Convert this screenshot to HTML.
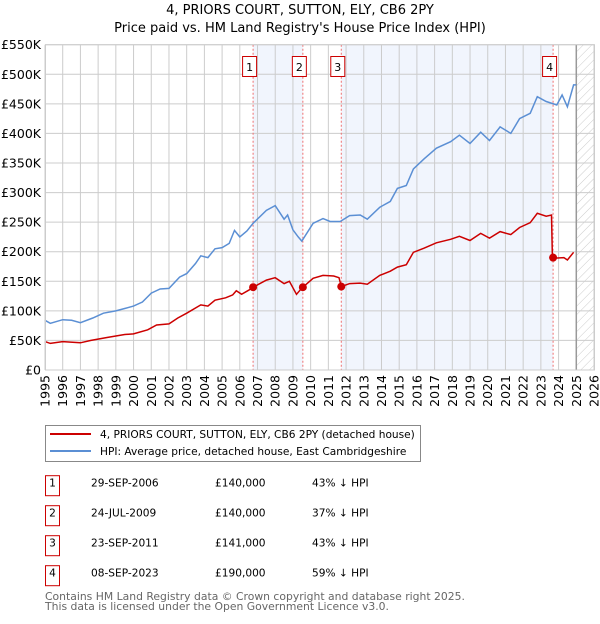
<!DOCTYPE html>
<html><head><meta charset="utf-8"><style>
body{margin:0;background:#fff;width:600px;height:620px;overflow:hidden;font-family:"DejaVu Sans","Liberation Sans",sans-serif}
svg text{font-family:"DejaVu Sans","Liberation Sans",sans-serif}
</style></head><body>
<svg id="chart" width="600" height="620" xmlns="http://www.w3.org/2000/svg">
<defs><pattern id="hatch" patternUnits="userSpaceOnUse" width="6" height="6" patternTransform="rotate(45)"><line x1="0" y1="0" x2="0" y2="6" stroke="#ccc" stroke-width="1"/></pattern></defs>
<text x="300" y="14" font-size="13" text-anchor="middle" fill="#000">4, PRIORS COURT, SUTTON, ELY, CB6 2PY</text>
<text x="300" y="32" font-size="13" text-anchor="middle" fill="#000">Price paid vs. HM Land Registry's House Price Index (HPI)</text>
<g id="plot"></g>
<rect x="45.5" y="425.5" width="375" height="36" fill="#fff" stroke="#888"/>
<line x1="50" y1="434" x2="91" y2="434" stroke="#cc0000" stroke-width="2"/>
<text x="100" y="438" font-size="10.6">4, PRIORS COURT, SUTTON, ELY, CB6 2PY (detached house)</text>
<line x1="50" y1="451" x2="91" y2="451" stroke="#5b8fd4" stroke-width="2"/>
<text x="100" y="455" font-size="10.6">HPI: Average price, detached house, East Cambridgeshire</text>
<g id="table" font-size="10.6"></g>
<text x="45" y="600" font-size="10.8" fill="#666">Contains HM Land Registry data © Crown copyright and database right 2025.</text>
<text x="45" y="610" font-size="10.8" fill="#666">This data is licensed under the Open Government Licence v3.0.</text>
</svg>
<script>
const hpiYears=[1995.0,1995.3,1996.0,1996.5,1997.0,1997.7,1998.3,1999.0,1999.5,2000.0,2000.5,2001.0,2001.5,2002.0,2002.6,2003.0,2003.5,2003.8,2004.2,2004.6,2005.0,2005.4,2005.7,2006.0,2006.4,2006.75,2007.5,2008.0,2008.5,2008.7,2009.0,2009.3,2009.5,2010.14,2010.7,2011.1,2011.67,2012.2,2012.8,2013.2,2013.9,2014.5,2014.9,2015.4,2015.8,2016.4,2017.1,2017.9,2018.4,2019.0,2019.6,2020.1,2020.7,2021.3,2021.8,2022.4,2022.8,2023.3,2023.9,2024.2,2024.5,2024.85,2025.0];
const hpiValues=[84,79,85,84,80,88,96,100,104,108,115,130,137,138,157,163,180,193,190,205,207,214,236,225,235,248,270,278,255,262,237,225,218,248,256,251,251,261,262,255,275,285,307,312,340,357,375,386,397,383,402,388,411,400,425,434,462,454,448,465,445,482,482];
const redYears=[1995.0,1995.3,1996.0,1997.0,1997.6,1998.5,1999.5,2000.0,2000.8,2001.3,2002.0,2002.5,2003.0,2003.8,2004.2,2004.6,2005.2,2005.6,2005.8,2006.1,2006.5,2006.75,2007.5,2008.0,2008.5,2008.8,2009.2,2009.4,2009.56,2010.14,2010.7,2011.3,2011.6,2011.73,2012.2,2012.8,2013.2,2013.9,2014.5,2014.9,2015.4,2015.8,2016.4,2017.1,2017.9,2018.4,2019.0,2019.6,2020.1,2020.7,2021.3,2021.8,2022.4,2022.8,2023.3,2023.6,2023.65,2023.69,2024.3,2024.5,2024.85];
const redValues=[48,45,48,46,50,55,60,61,68,76,78,88,96,110,108,118,122,127,134,128,135,140,152,156,146,150,128,135,140,155,160,159,156,141,146,147,145,160,167,174,178,199,206,215,221,226,219,231,223,234,229,241,249,265,260,262,190,189,190,186,199];
const saleYears=[2006.75,2009.56,2011.73,2023.69];
const saleValues=[140,140,141,190];
const saleLabels=["1","2","3","4"];
const saleDates=["29-SEP-2006"," 24-JUL-2009","23-SEP-2011","08-SEP-2023"];
const salePrices=["£140,000","£140,000","£141,000","£190,000"];
const saleDiffs=["43% ↓ HPI","37% ↓ HPI","43% ↓ HPI","59% ↓ HPI"];
const yTicks=[0,50,100,150,200,250,300,350,400,450,500,550];
const xTicks=[1995,1996,1997,1998,1999,2000,2001,2002,2003,2004,2005,2006,2007,2008,2009,2010,2011,2012,2013,2014,2015,2016,2017,2018,2019,2020,2021,2022,2023,2024,2025,2026];

const X0=45,X1=594,Y0=370,Y1=44.7;
const xS=y=>X0+(y-1995)/(2026-1995)*(X1-X0);
const yS=v=>Y0-v/550*(Y0-Y1);
const NS="http://www.w3.org/2000/svg";
const plot=document.getElementById('plot');
function mk(tag,attrs,parent){const e=document.createElementNS(NS,tag);for(const k in attrs)e.setAttribute(k,attrs[k]);(parent||plot).appendChild(e);return e;}

let e;
e=mk('rect',{x:X0,y:Y1,width:X1-X0,height:Y0-Y1,fill:'#fff'});


[[0,1],[2,3]].forEach(p=>{
  e=mk('rect',{x:xS(saleYears[p[0]]),y:Y1,width:xS(saleYears[p[1]])-xS(saleYears[p[0]]),height:Y0-Y1,fill:'#eef3fc',opacity:0.8});
  
  
});
e=mk('rect',{x:xS(2025),y:Y1,width:X1-xS(2025),height:Y0-Y1,fill:'url(#hatch)'});


yTicks.forEach(v=>{
  e=mk('line',{x1:X0,x2:X1,y1:yS(v),y2:yS(v),stroke:'#ccc','stroke-width':1});
  
  
  e=mk('text',{x:X0-4,y:yS(v)+4.5,'font-size':12.5,'text-anchor':'end',fill:'#000'});
  e.textContent=v===0?'£0':'£'+v+'K';
  
  
});
xTicks.forEach(y=>{
  e=mk('line',{x1:xS(y),x2:xS(y),y1:Y1,y2:Y0,stroke:'#ccc','stroke-width':1});
  
  
  e=mk('text',{x:0,y:0,'font-size':12.5,'text-anchor':'end',transform:`translate(${xS(y)+4.5},${Y0+5}) rotate(-90)`});
  e.textContent=y;
  
  
});
e=mk('line',{x1:xS(2025),x2:xS(2025),y1:Y1,y2:Y0,stroke:'#999','stroke-width':1.5});


saleYears.forEach((s,i)=>{
  e=mk('line',{x1:xS(s),x2:xS(s),y1:Y1,y2:Y0,stroke:'#f07070','stroke-width':1,'stroke-dasharray':'2,2'});
  
  
  const g=mk('g',{});
  
  
  mk('rect',{x:xS(s)-10.5,y:56.5,width:14,height:20,fill:'#fff',stroke:'#cc0000'},g);
  const t=mk('text',{x:xS(s)-3.5,y:71,'font-size':11,'text-anchor':'middle'},g);
  t.textContent=saleLabels[i];
});
const pts=(xs,vs)=>xs.map((x,i)=>xS(x).toFixed(1)+','+yS(vs[i]).toFixed(1)).join(' ');
e=mk('polyline',{points:pts(hpiYears,hpiValues),fill:'none',stroke:'#5b8fd4','stroke-width':1.5});


e=mk('polyline',{points:pts(redYears,redValues),fill:'none',stroke:'#cc0000','stroke-width':1.5});


saleYears.forEach((s,i)=>{
  e=mk('circle',{cx:xS(s),cy:yS(saleValues[i]),r:4,fill:'#cc0000'});
  
  
});
e=mk('rect',{x:X0+0.5,y:Y1,width:X1-X0,height:Y0-Y1,fill:'none',stroke:'#ccc'});



const tbl=document.getElementById('table');
saleLabels.forEach((l,i)=>{
  const cy=485.7+i*30;
  const g=mk('g',{},tbl);
  
  
  mk('rect',{x:45.5,y:cy-10,width:14,height:20,fill:'#fff',stroke:'#cc0000'},g);
  let t=mk('text',{x:52.5,y:cy+1,'text-anchor':'middle'},g);t.textContent=l;
  t=mk('text',{x:91,y:cy+1,'xml:space':'preserve'},g);t.textContent=saleDates[i];
  t=mk('text',{x:215,y:cy+1},g);t.textContent=salePrices[i];
  t=mk('text',{x:312,y:cy+1},g);t.textContent=saleDiffs[i];
});
</script>
</body></html>
